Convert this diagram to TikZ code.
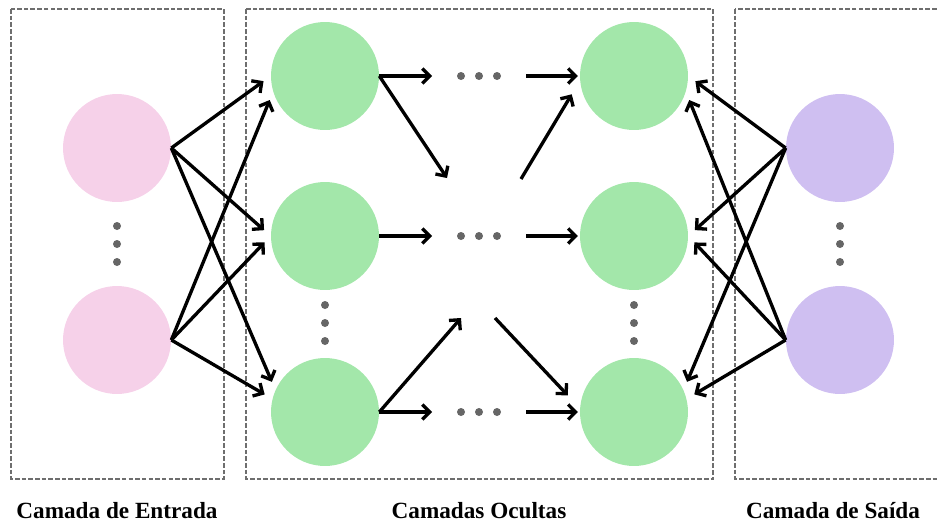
\documentclass[tikz,border=0pt]{standalone}
\usepackage{fontspec}
\setmainfont{Liberation Serif}
\usetikzlibrary{arrows.meta}
\definecolor{rosaclaro}{HTML}{F6D1E9}
\definecolor{verdeclaro}{HTML}{A3E7AA}
\definecolor{lilas}{HTML}{CFBFF1}
\definecolor{cinzaponto}{HTML}{666666}
\definecolor{cinzacaixa}{HTML}{6E6E6E}
\tikzset{
  neuronio/.style={
    circle,
    draw=none,
    minimum size=2.16cm,
    inner sep=0pt
  },
  entrada/.style={neuronio, fill=rosaclaro},
  oculto/.style={neuronio, fill=verdeclaro},
  saida/.style={neuronio, fill=lilas},
  caixa/.style={
    draw=cinzacaixa,
    line width=0.9pt,
    dash pattern=on 2.6pt off 1.2pt
  },
  seta/.style={
    -{Straight Barb[length=4.2pt,width=8.5pt]},
    line width=1.9pt,
    black,
    shorten >=5pt
  },
  livre/.style={seta, shorten >=0pt},
  rotulo/.style={
    font=\fontsize{13.2}{16}\selectfont\bfseries
  }
}

\begin{document}
\begin{tikzpicture}[x=0.02cm, y=-0.02cm]
\useasboundingbox (0,0) rectangle (937,524);
% caixas tracejadas
\draw[caixa] (11,9) rectangle (224,479);
\draw[caixa] (246,9) rectangle (713,479);
\draw[caixa] (735,9) rectangle (960,479);
% neuronios
\node[entrada] (e1) at (117,148) {};
\node[entrada] (e2) at (117,340) {};
\node[oculto] (g11) at (325,76) {};
\node[oculto] (g21) at (325,236) {};
\node[oculto] (g31) at (325,412) {};
\node[oculto] (g12) at (634,76) {};
\node[oculto] (g22) at (634,236) {};
\node[oculto] (g32) at (634,412) {};
\node[saida] (s1) at (840,148) {};
\node[saida] (s2) at (840,340) {};
% pontos de continuacao
\foreach \y in {226,244,262} {
  \fill[cinzaponto] (117,\y) circle (4);
  \fill[cinzaponto] (840,\y) circle (4);
}
\foreach \y in {305,323,341} {
  \fill[cinzaponto] (325,\y) circle (4);
  \fill[cinzaponto] (634,\y) circle (4);
}
\foreach \y in {76,236,412}
  \foreach \x in {461,479,497}
    \fill[cinzaponto] (\x,\y) circle (4);
% pontas livres
\coordinate (h1a) at (432,76);
\coordinate (h1b) at (526,76);
\coordinate (h2a) at (432,236);
\coordinate (h2b) at (526,236);
\coordinate (h3a) at (432,412);
\coordinate (h3b) at (526,412);
\coordinate (ua) at (447,178);
\coordinate (ub) at (521,179);
\coordinate (la) at (461,318);
\coordinate (lb) at (495,318);
% entrada -> primeira oculta
\draw[seta] (e1.east) -- (g11.west);
\draw[seta] (e1.east) -- (g21.west);
\draw[seta] (e1.east) -- (g31.156);
\draw[seta] (e2.east) -- (g11.197);
\draw[seta] (e2.east) -- (g21.west);
\draw[seta] (e2.east) -- (g31.166);
% camadas ocultas
\draw[livre] (g11.east) -- (h1a);
\draw[livre] (g21.east) -- (h2a);
\draw[livre] (g31.east) -- (h3a);
\draw[livre] (g11.east) -- (ua);
\draw[livre] (g31.east) -- (la);
\draw[seta, shorten >=1pt] (h1b) -- (g12.west);
\draw[seta, shorten >=1pt] (h2b) -- (g22.west);
\draw[seta, shorten >=1pt] (h3b) -- (g32.west);
\draw[seta, shorten >=9pt] (ub) -- (g12.185);
\draw[seta, shorten >=10pt] (lb) -- (g32.176);
% saida -> ultima oculta
\draw[seta] (s1.west) -- (g12.east);
\draw[seta] (s1.west) -- (g22.east);
\draw[seta] (s1.west) -- (g32.24);
\draw[seta] (s2.west) -- (g12.-17);
\draw[seta] (s2.west) -- (g22.east);
\draw[seta] (s2.west) -- (g32.14);
% rotulos
\node[rotulo] (r1) at (117,511) {Camada de Entrada};
\node[rotulo] (r2) at (479,511) {Camadas Ocultas};
\node[rotulo] (r3) at (833,511) {Camada de Saída};
\end{tikzpicture}
\end{document}
